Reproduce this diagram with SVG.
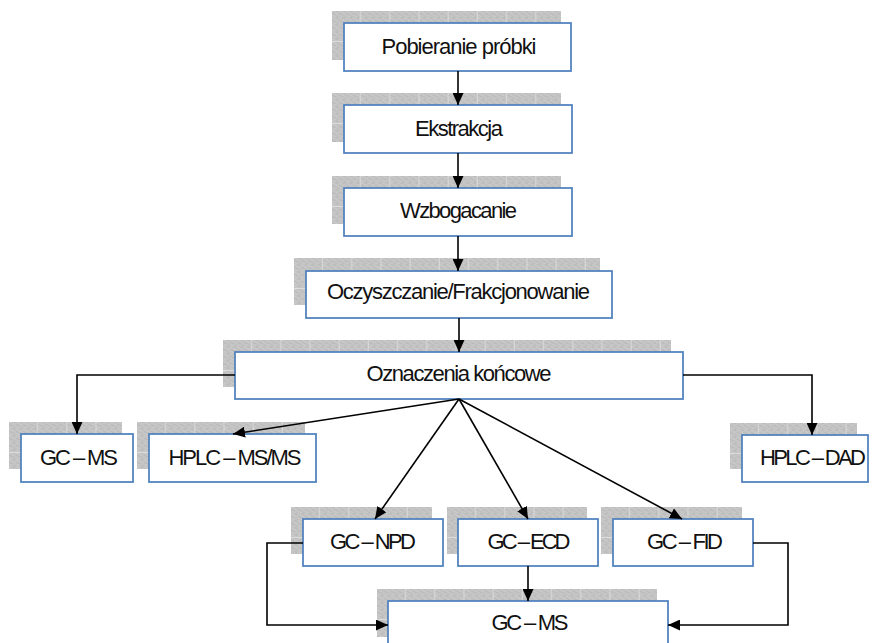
<svg xmlns="http://www.w3.org/2000/svg" width="872" height="643" viewBox="0 0 872 643">
<style>
.box{fill:#fff;stroke:#4f81bd;stroke-width:1.75}
.sh{fill:url(#brick)}
.t{font-family:"Liberation Sans",Arial,sans-serif;font-size:22px;fill:#111;text-anchor:middle}
.c{fill:none;stroke:#000;stroke-width:1.6}
</style>
<defs>
<pattern id="noise" patternUnits="userSpaceOnUse" width="7" height="7">
<rect width="7" height="7" fill="#c2c2c2"/>
<rect x="1" y="0" width="1" height="1" fill="#d0d0d0"/>
<rect x="5" y="0" width="1" height="1" fill="#b4b4b4"/>
<rect x="3" y="1" width="1" height="1" fill="#cdcdcd"/>
<rect x="0" y="2" width="1" height="1" fill="#b8b8b8"/>
<rect x="4" y="2" width="1" height="1" fill="#d2d2d2"/>
<rect x="6" y="3" width="1" height="1" fill="#cbcbcb"/>
<rect x="2" y="3" width="1" height="1" fill="#b3b3b3"/>
<rect x="1" y="4" width="1" height="1" fill="#cfcfcf"/>
<rect x="5" y="5" width="1" height="1" fill="#b9b9b9"/>
<rect x="3" y="5" width="1" height="1" fill="#d1d1d1"/>
<rect x="0" y="6" width="1" height="1" fill="#cccccc"/>
<rect x="4" y="6" width="1" height="1" fill="#b6b6b6"/>
<rect x="6" y="1" width="1" height="1" fill="#cacaca"/>
<rect x="2" y="5" width="1" height="1" fill="#c9c9c9"/>
</pattern>
<pattern id="brick" patternUnits="userSpaceOnUse" width="29.2" height="31">
<rect width="29.2" height="31" fill="url(#noise)"/>
<path d="M28.5,0V31M0,30.5H29.2" stroke="#dcdcdc" stroke-width="1"/>
</pattern>
<marker id="ah" markerUnits="userSpaceOnUse" markerWidth="13" markerHeight="11" refX="12" refY="5.5" orient="auto">
<path d="M0,0L12,5.5L0,11z" fill="#000"/>
</marker>
</defs>

<g id="n1">
<g transform="translate(332,11)"><rect class="sh" width="229" height="49"/></g>
<rect class="box" x="344" y="23" width="227" height="48"/>
<text class="t" x="459" y="54" textLength="155" lengthAdjust="spacing">Pobieranie próbki</text>
</g>
<g id="n2">
<g transform="translate(332,93)"><rect class="sh" width="229" height="49"/></g>
<rect class="box" x="344" y="105" width="228" height="48"/>
<text class="t" x="459" y="136" textLength="88" lengthAdjust="spacing">Ekstrakcja</text>
</g>
<g id="n3">
<g transform="translate(332,176)"><rect class="sh" width="229" height="48"/></g>
<rect class="box" x="344" y="188" width="228" height="48"/>
<text class="t" x="458.5" y="218" textLength="117" lengthAdjust="spacing">Wzbogacanie</text>
</g>
<g id="n4">
<g transform="translate(294,258)"><rect class="sh" width="306" height="47"/></g>
<rect class="box" x="306" y="271" width="306" height="47"/>
<text class="t" x="458.5" y="299" textLength="263" lengthAdjust="spacing">Oczyszczanie/Frakcjonowanie</text>
</g>
<g id="n5">
<g transform="translate(223,340)"><rect class="sh" width="448" height="47"/></g>
<rect class="box" x="235" y="352" width="448" height="47"/>
<text class="t" x="459" y="381" textLength="185" lengthAdjust="spacing">Oznaczenia końcowe</text>
</g>
<g id="n6">
<g transform="translate(9,422)"><rect class="sh" width="113" height="47"/></g>
<rect class="box" x="21" y="434" width="112" height="48"/>
<text class="t" x="79" y="465" textLength="78" lengthAdjust="spacing">GC – MS</text>
</g>
<g id="n7">
<g transform="translate(137,422)"><rect class="sh" width="168" height="47"/></g>
<rect class="box" x="149" y="434" width="167" height="48"/>
<text class="t" x="235" y="465" textLength="133" lengthAdjust="spacing">HPLC – MS/MS</text>
</g>
<g id="n8">
<g transform="translate(730,423)"><rect class="sh" width="127" height="46"/></g>
<rect class="box" x="742" y="435" width="126" height="47"/>
<text class="t" x="813" y="465" textLength="106" lengthAdjust="spacing">HPLC – DAD</text>
</g>
<g id="n9">
<g transform="translate(291,507)"><rect class="sh" width="141" height="47"/></g>
<rect class="box" x="303" y="519" width="140" height="47"/>
<text class="t" x="373" y="549" textLength="86" lengthAdjust="spacing">GC – NPD</text>
</g>
<g id="n10">
<g transform="translate(447,507)"><rect class="sh" width="140" height="47"/></g>
<rect class="box" x="458" y="519" width="140" height="47"/>
<text class="t" x="529" y="549" textLength="83" lengthAdjust="spacing">GC – ECD</text>
</g>
<g id="n11">
<g transform="translate(601,507)"><rect class="sh" width="141" height="47"/></g>
<rect class="box" x="613" y="519" width="140" height="47"/>
<text class="t" x="685" y="549" textLength="76" lengthAdjust="spacing">GC – FID</text>
</g>
<g id="n12">
<g transform="translate(377,589)"><rect class="sh" width="280" height="48"/></g>
<rect class="box" x="388" y="601" width="280" height="48"/>
<text class="t" x="530" y="630" textLength="77" lengthAdjust="spacing">GC – MS</text>
</g>

<g id="connectors">
<path class="c" d="M458,71V105" marker-end="url(#ah)"/>
<path class="c" d="M458,153V188" marker-end="url(#ah)"/>
<path class="c" d="M458,236V271" marker-end="url(#ah)"/>
<path class="c" d="M459,318V352" marker-end="url(#ah)"/>
<path class="c" d="M235,375H77V434" marker-end="url(#ah)"/>
<path class="c" d="M683,375H812V435" marker-end="url(#ah)"/>
<path class="c" d="M459,399L233,434" marker-end="url(#ah)"/>
<path class="c" d="M459,399L375,519" marker-end="url(#ah)"/>
<path class="c" d="M459,399L528,519" marker-end="url(#ah)"/>
<path class="c" d="M459,399L682,519" marker-end="url(#ah)"/>
<path class="c" d="M528,566V601" marker-end="url(#ah)"/>
<path class="c" d="M303,543H267V625H388" marker-end="url(#ah)"/>
<path class="c" d="M753,543H788V625H668" marker-end="url(#ah)"/>
</g>
</svg>
